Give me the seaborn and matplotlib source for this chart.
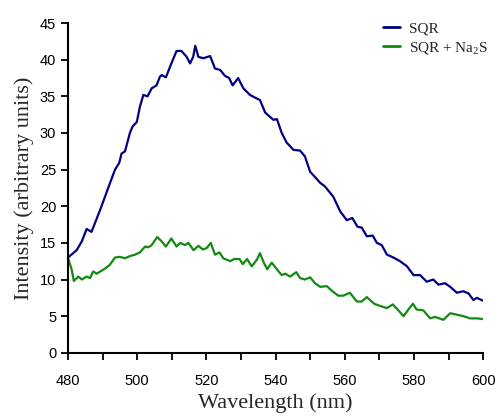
import matplotlib
matplotlib.use('Agg')
import matplotlib.pyplot as plt
import seaborn as sns
from matplotlib.ticker import MultipleLocator

# Emission spectra
wl_sqr = [480, 482.5, 484, 485.4, 486.8, 487.8, 489.3, 490.7, 492.1, 493.6, 494.8, 495.5,
          496.5, 497.9, 498.7, 499.9, 500.8, 501.8, 503, 504.2, 505.6, 506.6, 507.1, 508.3,
          509.9, 511.4, 512.8, 514.3, 515.3, 516.2, 516.8, 517.7, 519.1, 521.1, 522.5, 524,
          525.4, 526.6, 527.6, 529.2, 530.7, 532.6, 534.6, 535.5, 537, 538.4, 539.4, 540.4,
          541.8, 543.2, 545.2, 547.1, 548.5, 550, 551.4, 552.9, 554.3, 556.7, 558.7, 560.6,
          562.2, 563.7, 564.9, 566.4, 568.1, 569.3, 570.7, 572.2, 574.1, 576, 578, 579.9,
          581.8, 583.7, 585.6, 587.1, 589, 590.5, 592.4, 594.3, 595.8, 597.2, 598.2, 600]
int_sqr = [13.0, 14.0, 15.2, 16.9, 16.5, 17.7, 19.5, 21.3, 23.1, 25.0, 25.9, 27.2,
           27.5, 30.0, 30.9, 31.5, 33.6, 35.2, 35.0, 36.1, 36.5, 37.7, 37.9, 37.6,
           39.5, 41.2, 41.2, 40.4, 39.5, 40.4, 41.9, 40.4, 40.2, 40.5, 38.8, 38.6,
           37.8, 37.5, 36.5, 37.5, 36.1, 35.2, 34.7, 34.5, 32.8, 32.2, 31.8, 31.9,
           30.0, 28.7, 27.7, 27.6, 26.8, 24.7, 24.0, 23.2, 22.7, 21.3, 19.3, 18.1,
           18.4, 17.2, 17.1, 15.9, 16.0, 15.0, 14.7, 13.4, 13.0, 12.5, 11.8, 10.6,
           10.6, 9.7, 10.0, 9.3, 9.5, 9.0, 8.2, 8.4, 8.1, 7.2, 7.5, 7.1]

wl_na2s = [480, 481.1, 481.7, 483, 484, 485.4, 486.4, 487.3, 488.3, 489.7, 490.7, 492.1,
           493.6, 495, 496.5, 497.9, 499.4, 500.8, 502.3, 503.2, 504.2, 505.8, 507.1, 508.3,
           509.9, 511.4, 512.5, 513.8, 514.8, 516.3, 517.7, 519, 520.1, 521.3, 522.5, 523.8,
           524.9, 526.9, 528, 529.6, 530.5, 531.8, 533.1, 534.6, 535.5, 536.7, 537.6, 538.9,
           540.4, 541.8, 542.8, 544.2, 546, 547.1, 548.5, 550, 551.4, 552.9, 554.8, 556.2,
           558.1, 559.6, 561.5, 563.5, 564.9, 566.4, 568.5, 570.2, 572.2, 573.9, 575.5, 577,
           578.4, 579.7, 580.8, 582.7, 584.7, 586.1, 588.5, 590.5, 592.4, 594.3, 596.2, 598.2,
           600]
int_na2s = [13.0, 11.3, 9.8, 10.4, 10.0, 10.4, 10.2, 11.1, 10.8, 11.2, 11.5, 12.0,
            13.0, 13.1, 12.9, 13.2, 13.4, 13.7, 14.5, 14.4, 14.7, 15.8, 15.2, 14.5,
            15.6, 14.5, 15.0, 14.7, 15.0, 14.0, 14.6, 14.1, 14.3, 15.0, 13.4, 13.7,
            12.9, 12.5, 12.8, 12.8, 12.1, 12.8, 11.8, 12.7, 13.6, 12.2, 11.4, 12.3,
            11.4, 10.6, 10.8, 10.4, 11.0, 10.2, 10.0, 10.3, 9.5, 9.0, 9.1, 8.5,
            7.8, 7.8, 8.2, 7.0, 7.0, 7.6, 6.7, 6.4, 6.1, 6.6, 5.8, 5.0,
            5.9, 6.7, 5.9, 5.8, 4.7, 4.9, 4.5, 5.4, 5.2, 5.0, 4.7, 4.7,
            4.6]

sns.set_style('ticks')
plt.rcParams['font.family'] = ['Liberation Sans', 'DejaVu Sans']

fig = plt.figure(figsize=(4.96, 4.2), dpi=100)
ax = fig.add_axes([0.137, 0.16, 0.837, 0.785])

sns.lineplot(x=wl_sqr, y=int_sqr, color='#000080', linewidth=1.6, label='SQR', ax=ax)
sns.lineplot(x=wl_na2s, y=int_na2s, color='#118a11', linewidth=1.6,
             label='SQR + Na$\\mathregular{_2}$S', ax=ax)

ax.set_xlim(480, 600)
ax.set_ylim(0, 45)
ax.xaxis.set_major_locator(MultipleLocator(20))
ax.xaxis.set_minor_locator(MultipleLocator(10))
ax.yaxis.set_major_locator(MultipleLocator(5))
ax.tick_params(axis='both', which='both', direction='out', length=5, width=1.3,
               color='black', labelsize=10.5, labelcolor='black')
ax.tick_params(axis='x', pad=10)
sns.despine(ax=ax)
for s in ['left', 'bottom']:
    ax.spines[s].set_linewidth(1.5)
    ax.spines[s].set_color('black')

ax.set_xlabel('Wavelength (nm)', family='Liberation Serif', fontsize=16, labelpad=4)
ax.set_ylabel('Intensity (arbitrary units)', family='Liberation Serif', fontsize=16, labelpad=4)

leg = ax.legend(loc='upper right', bbox_to_anchor=(1.045, 1.045), frameon=False,
                prop={'family': 'Liberation Serif', 'size': 11},
                handlelength=1.1, handletextpad=0.6, labelspacing=0.25)
for line in leg.get_lines():
    line.set_linewidth(2)

fig.savefig('out.png', dpi=100)
